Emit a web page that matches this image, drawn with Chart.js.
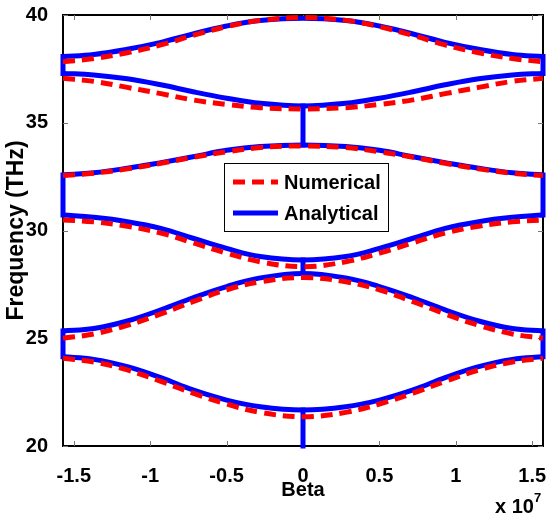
<!DOCTYPE html>
<html>
<head>
<meta charset="utf-8">
<script src="https://cdn.jsdelivr.net/npm/chart.js@4.4.1/dist/chart.umd.min.js"></script>
<style>
  html, body { margin: 0; padding: 0; background: #fff; }
  #wrap { width: 547px; height: 515px; position: relative; }
</style>
</head>
<body>
<div id="wrap"><canvas id="bands"></canvas></div>
<script>
// beta in units of 1e7 (multiplier printed at bottom right)
const beta = [-1.5708, -1.37, -1.15, -0.93, -0.72, -0.5, -0.28, 0, 0.28, 0.5, 0.72, 0.93, 1.15, 1.37, 1.5708];
const xTicks = [-1.5, -1, -0.5, 0, 0.5, 1, 1.5];
const yTicks = [20, 25, 30, 35, 40];

// analytical bands (THz)
const ana1 = [24.14, 24.02, 23.68, 23.17, 22.60, 22.13, 21.82, 21.67, 21.82, 22.13, 22.60, 23.17, 23.68, 24.02, 24.14];
const ana2 = [25.34, 25.45, 25.80, 26.32, 26.88, 27.40, 27.80, 28.01, 27.80, 27.40, 26.88, 26.32, 25.80, 25.45, 25.34];
const ana3 = [30.72, 30.61, 30.41, 30.10, 29.64, 29.17, 28.79, 28.63, 28.79, 29.17, 29.64, 30.10, 30.41, 30.61, 30.72];
const ana4 = [32.58, 32.68, 32.89, 33.15, 33.42, 33.72, 33.90, 33.97, 33.90, 33.72, 33.42, 33.15, 32.89, 32.68, 32.58];
const ana5 = [37.29, 37.22, 37.04, 36.76, 36.44, 36.14, 35.90, 35.78, 35.90, 36.14, 36.44, 36.76, 37.04, 37.22, 37.29];
const ana6 = [38.07, 38.17, 38.41, 38.73, 39.12, 39.49, 39.74, 39.85, 39.74, 39.49, 39.12, 38.73, 38.41, 38.17, 38.07];

// numerical bands (THz)
const num1 = [24.07, 23.90, 23.53, 23.00, 22.45, 21.95, 21.56, 21.36, 21.56, 21.95, 22.45, 23.00, 23.53, 23.90, 24.07];
const num2 = [25.00, 25.20, 25.60, 26.13, 26.70, 27.25, 27.62, 27.82, 27.62, 27.25, 26.70, 26.13, 25.60, 25.20, 25.00];
const num3 = [30.49, 30.40, 30.20, 29.88, 29.43, 28.95, 28.55, 28.32, 28.55, 28.95, 29.43, 29.88, 30.20, 30.40, 30.49];
const num4 = [32.55, 32.66, 32.86, 33.12, 33.40, 33.65, 33.85, 33.92, 33.85, 33.65, 33.40, 33.12, 32.86, 32.66, 32.55];
const num5 = [37.06, 36.92, 36.64, 36.35, 36.06, 35.85, 35.70, 35.64, 35.70, 35.85, 36.06, 36.35, 36.64, 36.92, 37.06];
const num6 = [37.83, 37.98, 38.25, 38.61, 39.05, 39.46, 39.75, 39.88, 39.75, 39.46, 39.05, 38.61, 38.25, 37.98, 37.83];

const BLUE = '#0000ff';
const RED = '#ff0000';
const FONT = "'Liberation Sans', Arial, sans-serif";

const pts = ys => beta.map((b, i) => ({ x: b, y: ys[i] }));

// vertical blue links between analytical bands (at the centre and the zone edges)
const mid = 7, last = beta.length - 1;
const links = [];
const seg = (bx, y0, y1) => links.push({ x: bx, y: y0 }, { x: bx, y: y1 }, { x: bx, y: null });
seg(beta[mid], yTicks[0], ana1[mid]);
seg(beta[mid], ana2[mid], ana3[mid]);
seg(beta[mid], ana4[mid], ana5[mid]);
[0, last].forEach(i => {
  seg(beta[i], ana1[i], ana2[i]);
  seg(beta[i], ana3[i], ana4[i]);
  seg(beta[i], ana5[i], ana6[i]);
});

const numStyle = {
  borderColor: RED, borderWidth: 5, borderDash: [12, 7],
  pointRadius: 0, showLine: true, tension: 0.4, clip: false, order: 1
};
const anaStyle = {
  borderColor: BLUE, borderWidth: 5,
  pointRadius: 0, showLine: true, tension: 0.4, clip: false, order: 2
};

const datasets = [];
[num1, num2, num3, num4, num5, num6].forEach(d => datasets.push({ label: 'Numerical', data: pts(d), ...numStyle }));
[ana1, ana2, ana3, ana4, ana5, ana6].forEach(d => datasets.push({ label: 'Analytical', data: pts(d), ...anaStyle }));
datasets.push({ label: 'Analytical', data: links, ...anaStyle, tension: 0, spanGaps: false, borderCapStyle: 'square' });

const frame = {
  id: 'frame',
  beforeDatasetsDraw(chart) {
    const { ctx, chartArea: a, scales: { x, y } } = chart;
    ctx.save();
    ctx.strokeStyle = '#000';
    ctx.lineWidth = 2;
    ctx.strokeRect(a.left, a.top, a.right - a.left, a.bottom - a.top);
    ctx.strokeStyle = '#777';
    ctx.lineWidth = 1;
    ctx.beginPath();
    xTicks.forEach(v => {
      const px = Math.round(x.getPixelForValue(v)) + 0.5;
      ctx.moveTo(px, a.bottom); ctx.lineTo(px, a.bottom - 5);
      ctx.moveTo(px, a.top); ctx.lineTo(px, a.top + 5);
    });
    yTicks.forEach(v => {
      const py = Math.round(y.getPixelForValue(v)) + 0.5;
      ctx.moveTo(a.left, py); ctx.lineTo(a.left + 5, py);
      ctx.moveTo(a.right, py); ctx.lineTo(a.right - 5, py);
    });
    ctx.stroke();
    ctx.restore();
  },
  afterDraw(chart) {
    const { ctx } = chart;
    ctx.save();
    // legend box
    const lx = 224, ly = 163, lw = 164, lh = 68;
    ctx.fillStyle = '#fff';
    ctx.fillRect(lx, ly, lw, lh);
    ctx.strokeStyle = '#000';
    ctx.lineWidth = 1;
    ctx.strokeRect(lx + 0.5, ly + 0.5, lw, lh);
    const rows = [
      { text: 'Numerical', color: RED, dash: [12, 7], y: ly + 19 },
      { text: 'Analytical', color: BLUE, dash: [], y: ly + 50 }
    ];
    ctx.font = 'bold 20px ' + FONT;
    ctx.textBaseline = 'middle';
    ctx.textAlign = 'left';
    rows.forEach(r => {
      ctx.strokeStyle = r.color;
      ctx.lineWidth = 5;
      ctx.setLineDash(r.dash);
      ctx.beginPath();
      ctx.moveTo(lx + 9, r.y); ctx.lineTo(lx + 54, r.y);
      ctx.stroke();
      ctx.setLineDash([]);
      ctx.fillStyle = '#000';
      ctx.fillText(r.text, lx + 60, r.y + 1);
    });
    // exponent label
    ctx.textBaseline = 'alphabetic';
    ctx.font = 'bold 20px ' + FONT;
    ctx.fillText('x 10', 495, 513);
    ctx.font = 'bold 13px ' + FONT;
    ctx.fillText('7', 534, 502);
    ctx.restore();
  }
};

new Chart(document.getElementById('bands'), {
  type: 'scatter',
  data: { datasets },
  plugins: [frame],
  options: {
    responsive: true,
    maintainAspectRatio: false,
    animation: false,
    layout: { padding: { top: 15, right: 4, left: 0, bottom: 0 } },
    plugins: { legend: { display: false }, tooltip: { enabled: false } },
    scales: {
      x: {
        type: 'linear', min: beta[0], max: beta[last],
        grid: { display: false }, border: { display: false },
        afterBuildTicks: s => { s.ticks = xTicks.map(v => ({ value: v })); },
        afterFit: s => { s.height = 69; s.paddingLeft = 0; s.paddingRight = 0; },
        ticks: { color: '#000', font: { family: FONT, size: 20, weight: 'bold' }, padding: 10, maxRotation: 0, autoSkip: false,
          callback: v => String(v) },
        title: { display: true, text: 'Beta', color: '#000', font: { family: FONT, size: 20, weight: 'bold' }, padding: { top: 0, bottom: 13 } }
      },
      y: {
        type: 'linear', min: yTicks[0], max: yTicks[yTicks.length - 1],
        grid: { display: false }, border: { display: false },
        afterBuildTicks: s => { s.ticks = yTicks.map(v => ({ value: v })); },
        afterFit: s => { s.width = 63; s.paddingTop = 0; s.paddingBottom = 0; },
        ticks: { color: '#000', font: { family: FONT, size: 20, weight: 'bold' }, padding: 7 },
        title: { display: true, text: 'Frequency (THz)', color: '#000', font: { family: FONT, size: 23, weight: 'bold' }, padding: { top: 3, bottom: 0 } }
      }
    }
  }
});
</script>
</body>
</html>
